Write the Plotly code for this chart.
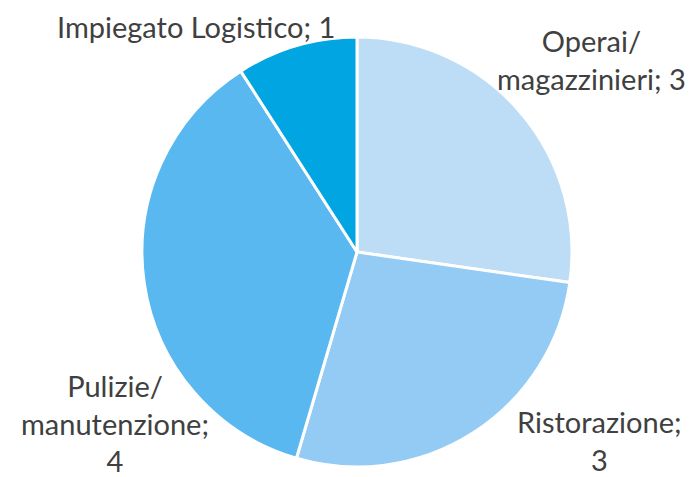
import plotly.graph_objects as go

# Dati
categorie = ["Operai/magazzinieri", "Ristorazione", "Pulizie/manutenzione", "Impiegato Logistico"]
valori = [3, 3, 4, 1]
colori = ["#BDDDF7", "#93CBF4", "#59B8EF", "#00A5E2"]

# Testi delle etichette (con a capo come nell'originale)
etichette = [
    "Operai/<br>magazzinieri; 3",
    "Ristorazione;<br>3",
    "Pulizie/<br>manutenzione;<br>4",
    "Impiegato Logistico; 1",
]

W, H = 692, 477

fig = go.Figure(
    go.Pie(
        labels=categorie,
        values=valori,
        sort=False,
        direction="clockwise",
        rotation=0,
        textinfo="none",
        marker=dict(colors=colori, line=dict(color="white", width=3)),
        domain=dict(x=[142 / W, 572 / W], y=[10 / H, 440 / H]),
        showlegend=False,
    )
)

# posizioni delle etichette (pixel)
posizioni = [(591, 59), (599, 440), (115, 423), (196, 27)]
for testo, (px_, py_) in zip(etichette, posizioni):
    fig.add_annotation(
        x=px_ / W, y=1 - py_ / H, xref="paper", yref="paper",
        text=testo, showarrow=False, align="center",
        xanchor="center", yanchor="middle",
        font=dict(family="Lato", size=29, color="#404040"),
    )

fig.update_layout(
    width=W, height=H,
    margin=dict(l=0, r=0, t=0, b=0),
    paper_bgcolor="white",
    plot_bgcolor="white",
)

fig.write_html(
    "out.html",
    config={"displayModeBar": False},
    post_script="document.body.style.margin='0';",
)
